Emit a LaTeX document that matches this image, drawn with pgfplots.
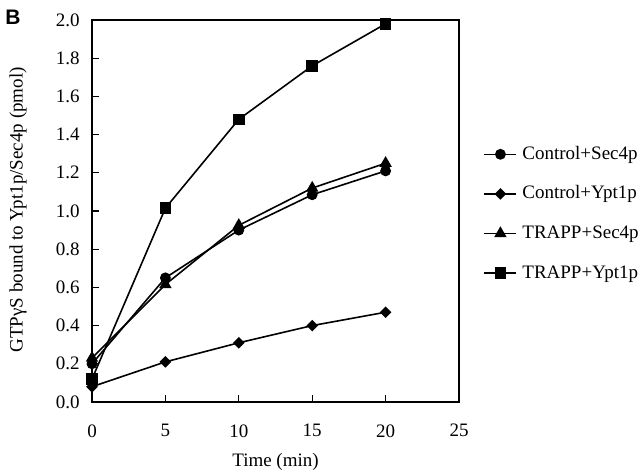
\documentclass[border=0pt]{standalone}
\usepackage{fontspec}
\setmainfont{Liberation Serif}
\newfontfamily\labelfont{Liberation Sans}
\usepackage{pgfplots}
\pgfplotsset{compat=1.18}

\begin{document}
\begin{tikzpicture}
\useasboundingbox (0,0) rectangle (320pt,237pt);
\node[font=\labelfont\bfseries\fontsize{10.5}{12}\selectfont] at (6.5pt,228.3pt) {B};
\begin{axis}[
    at={(46pt,36pt)}, anchor=south west,
    scale only axis,
    width=183.5pt, height=191pt,
    xmin=0, xmax=25, ymin=0, ymax=2,
    xtick={0,5,...,25},
    ytick={0,0.2,...,2.0},
    yticklabel style={/pgf/number format/fixed, /pgf/number format/fixed zerofill, /pgf/number format/precision=1, inner sep=0pt, xshift=-6pt},
    xticklabel style={inner sep=0pt, yshift=-11pt},
    /pgf/number format/assume math mode=true,
    ticklabel style={font=\fontsize{9.5}{11}\selectfont},
    tick align=inside,
    tick pos=left,
    major tick length=3.5pt,
    axis line style={line width=0.75pt},
    tick style={line width=0.6pt, black},
    xlabel={Time (min)},
    ylabel={GTPγS bound to Ypt1p/Sec4p (pmol)},
    label style={font=\fontsize{9.5}{11}\selectfont},
    xlabel style={at={(rel axis cs:0.5,-0.157)}, anchor=center},
    ylabel style={at={(rel axis cs:-0.2016,0.503)}, anchor=center, rotate=0},
    legend style={at={(rel axis cs:1.066,0.673)}, anchor=north west, draw=none, fill=none,
        inner sep=0pt, row sep=10.8pt, column sep=2.6pt,
        font=\fontsize{9.5}{11}\selectfont,
        nodes={text height=7pt, text depth=2pt, inner sep=0pt}},
    legend cell align=left,
    legend image code/.code={\draw[mark repeat=2,mark phase=2] plot coordinates {(0pt,0pt)(8pt,0pt)(16pt,0pt)};},
    every axis plot/.append style={black, line width=0.8pt, mark options={solid, fill=black}},
]
\addplot[mark=*, mark size=2.3pt] coordinates {(0,0.20) (5,0.65) (10,0.90) (15,1.085) (20,1.21)};
\addlegendentry{Control+Sec4p}
\addplot[mark=square*, mark size=1.65pt, mark options={rotate=45}] coordinates {(0,0.08) (5,0.21) (10,0.31) (15,0.40) (20,0.47)};
\addlegendentry{Control+Ypt1p}
\addplot[mark=triangle*, mark size=2.8pt] coordinates {(0,0.23) (5,0.615) (10,0.925) (15,1.12) (20,1.25)};
\addlegendentry{TRAPP+Sec4p}
\addplot[mark=square*, mark size=2.5pt] coordinates {(0,0.12) (5,1.015) (10,1.48) (15,1.76) (20,1.98)};
\addlegendentry{TRAPP+Ypt1p}
\end{axis}
\end{tikzpicture}
\end{document}
